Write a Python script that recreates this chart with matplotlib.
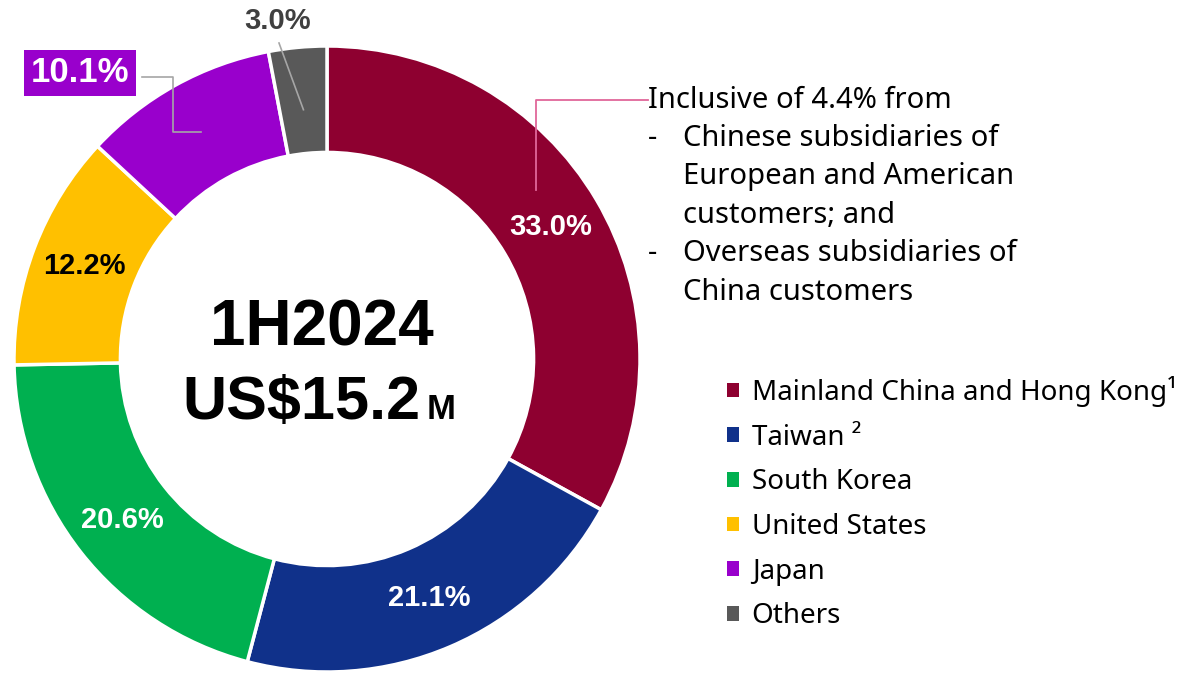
"""Revenue by customer region, 1H2024 donut chart."""

import matplotlib.pyplot as plt
import numpy as np

regions = [
    "Mainland China and Hong Kong",
    "Taiwan",
    "South Korea",
    "United States",
    "Japan",
    "Others",
]
legend_labels = [
    "Mainland China and Hong Kong\u00b9",
    "Taiwan \u00b2",
    "South Korea",
    "United States",
    "Japan",
    "Others",
]
shares = [33.0, 21.1, 20.6, 12.2, 10.1, 3.0]
colors = ["#8E0030", "#10318A", "#00B050", "#FFC000", "#9900CC", "#595959"]
label_colors = ["white", "white", "white", "black", "white", "#404040"]

note_lines = [
    "Inclusive of 4.4% from",
    "Chinese subsidiaries of",
    "European and American",
    "customers; and",
    "Overseas subsidiaries of",
    "China customers",
]
note_bullets = [None, "-", None, None, "-", None]

plt.rcParams["font.family"] = ["Noto Sans", "DejaVu Sans"]
BOLD = ["Liberation Sans", "DejaVu Sans"]

W, H = 1191, 677
CX, CY, R = 327, 359, 313  # donut centre and radius in pixels
FS = 21


def px(x, y):
    """Pixel position (top-left origin) to data coordinates."""
    return (x - CX) / R, (CY - y) / R


fig = plt.figure(figsize=(W / 100, H / 100), dpi=100)
ax = fig.add_axes([0, 0, 1, 1])

wedges, _ = ax.pie(
    shares,
    colors=colors,
    startangle=90,
    counterclock=False,
    radius=1.0,
    wedgeprops=dict(width=0.34, edgecolor="white", linewidth=2.5),
)

x0, y0 = px(0, H)
x1, y1 = px(W, 0)
ax.set_xlim(x0, x1)
ax.set_ylim(y0, y1)
ax.set_aspect("equal")
ax.axis("off")

# wedge mid angles
mid_angles = [np.deg2rad((w.theta1 + w.theta2) / 2) for w in wedges]
r_lab = 0.83

for i in range(4):
    a = mid_angles[i]
    ax.text(r_lab * np.cos(a), r_lab * np.sin(a), f"{shares[i]:.1f}%",
            ha="center", va="center", fontsize=21, fontweight="bold",
            family=BOLD, color=label_colors[i])

# Japan label in a purple box with elbow leader
a = mid_angles[4]
jx, jy = r_lab * np.cos(a), r_lab * np.sin(a)
bx, by = px(80, 73)
ex, _ = px(142, 0)
elbow, _ = px(173, 0)
_, ey = px(0, 77)
ax.plot([ex, elbow, elbow, jx], [ey, ey, jy, jy], color="#A6A6A6", lw=1.2)
ax.text(bx, by, f"{shares[4]:.1f}%", ha="center", va="center", fontsize=25,
        fontweight="bold", family=BOLD, color="white",
        bbox=dict(boxstyle="square,pad=0.2", fc=colors[4], ec="none"))

# Others label above the ring
a = mid_angles[5]
ox, oy = 0.8 * np.cos(a), 0.8 * np.sin(a)
tx, ty = px(278, 21)
lx, ly = px(279, 43)
ax.plot([lx, ox], [ly, oy], color="#A6A6A6", lw=1.2)
ax.text(tx, ty, f"{shares[5]:.1f}%", ha="center", va="center", fontsize=21,
        fontweight="bold", family=BOLD, color=label_colors[5])

# centre text
cx, cy = px(322, 328)
ax.text(cx, cy, "1H2024", ha="center", va="center", fontsize=46,
        fontweight="bold", family=BOLD, color="black")
ux, uy = px(420, 419)
ax.text(ux, uy, r"US\$15.2", ha="right", va="baseline", fontsize=44,
        fontweight="bold", family=BOLD, color="black")
mx, _ = px(427, 0)
ax.text(mx, uy, "M", ha="left", va="baseline", fontsize=25,
        fontweight="bold", family=BOLD, color="black")

# note on Mainland China share with pink leader
nx0, ny0 = px(648, 100)
vx, _ = px(536, 0)
_, vy = px(0, 190)
ax.plot([vx, vx, nx0], [vy, ny0, ny0], color="#E0679A", lw=1.3)
line_step = 38.4
ix, _ = px(683, 0)
for k, (line, bullet) in enumerate(zip(note_lines, note_bullets)):
    _, ly = px(0, 100 + k * line_step)
    if k == 0:
        ax.text(nx0, ly, line, ha="left", va="center", fontsize=FS)
        continue
    if bullet:
        ax.text(nx0, ly, bullet, ha="left", va="center", fontsize=FS)
    ax.text(ix, ly, line, ha="left", va="center", fontsize=FS)

# legend
leg = ax.legend(
    wedges, legend_labels,
    loc="upper left",
    bbox_to_anchor=(727 / W, 1 - 376 / H),
    bbox_transform=fig.transFigure,
    frameon=False,
    fontsize=20,
    handlelength=0.44,
    handleheight=0.44,
    handletextpad=0.45,
    labelspacing=0.6,
    borderpad=0,
    borderaxespad=0,
)
for h in leg.legend_handles:
    h.set_edgecolor("none")

fig.savefig("out.png", dpi=100)
